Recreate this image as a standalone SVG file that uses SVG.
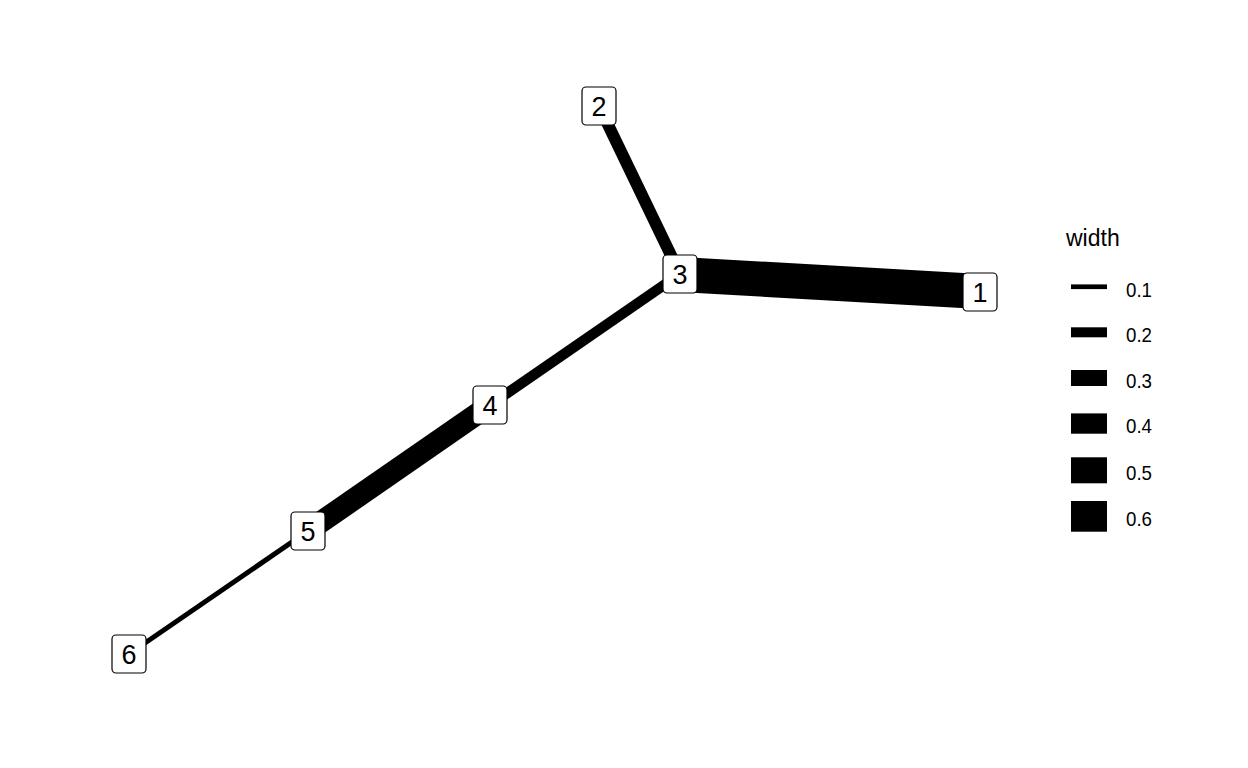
<svg xmlns="http://www.w3.org/2000/svg" width="1248" height="768" viewBox="0 0 1248 768">
<style>
.edge{stroke:#000;stroke-linecap:butt;fill:none}
.box{fill:#fff;stroke:#000;stroke-width:1.2}
.lbl{font-family:"Liberation Sans",Arial,sans-serif;font-size:27px;text-anchor:middle;fill:#000}
.ltitle{font-family:"Liberation Sans",Arial,sans-serif;font-size:23px;fill:#000}
.ltext{font-family:"Liberation Sans",Arial,sans-serif;font-size:21px;fill:#000}
.key{fill:#000}
</style>
<rect x="0" y="0" width="1248" height="768" fill="#fff"/>
<g id="connectors">
<line class="edge" x1="680" y1="274.5" x2="980" y2="291.5" stroke-width="35"/>
<line class="edge" x1="599" y1="106" x2="680" y2="274" stroke-width="12"/>
<line class="edge" x1="680" y1="274" x2="490" y2="405" stroke-width="10.5"/>
<line class="edge" x1="490" y1="405" x2="308" y2="531" stroke-width="22"/>
<line class="edge" x1="308" y1="531" x2="129" y2="654" stroke-width="5"/>
</g>
<g id="node1"><rect class="box" x="963" y="273" width="34" height="38" rx="4"/><text class="lbl" x="980" y="302">1</text></g>
<g id="node2"><rect class="box" x="582" y="87" width="34" height="38" rx="4"/><text class="lbl" x="599" y="116">2</text></g>
<g id="node3"><rect class="box" x="663" y="255" width="34" height="38" rx="4"/><text class="lbl" x="680" y="284">3</text></g>
<g id="node4"><rect class="box" x="473" y="386" width="34" height="38" rx="4"/><text class="lbl" x="490" y="415">4</text></g>
<g id="node5"><rect class="box" x="291" y="512" width="34" height="38" rx="4"/><text class="lbl" x="308" y="541">5</text></g>
<g id="node6"><rect class="box" x="112" y="635" width="34" height="38" rx="4"/><text class="lbl" x="129" y="664">6</text></g>
<g id="legend">
<text class="ltitle" x="1066" y="246">width</text>
<rect class="key" x="1071" y="284.4" width="36" height="4.7"/>
<rect class="key" x="1071" y="327.3" width="36" height="10"/>
<rect class="key" x="1071" y="370" width="36" height="16"/>
<rect class="key" x="1071" y="413.4" width="36" height="20.3"/>
<rect class="key" x="1071" y="457.3" width="36" height="26"/>
<rect class="key" x="1071" y="501" width="36" height="30.7"/>
<text class="ltext" x="1126" y="297" textLength="26" lengthAdjust="spacingAndGlyphs">0.1</text>
<text class="ltext" x="1126" y="342" textLength="26" lengthAdjust="spacingAndGlyphs">0.2</text>
<text class="ltext" x="1126" y="388" textLength="26" lengthAdjust="spacingAndGlyphs">0.3</text>
<text class="ltext" x="1126" y="433" textLength="26" lengthAdjust="spacingAndGlyphs">0.4</text>
<text class="ltext" x="1126" y="480" textLength="26" lengthAdjust="spacingAndGlyphs">0.5</text>
<text class="ltext" x="1126" y="526" textLength="26" lengthAdjust="spacingAndGlyphs">0.6</text>
</g>
</svg>
